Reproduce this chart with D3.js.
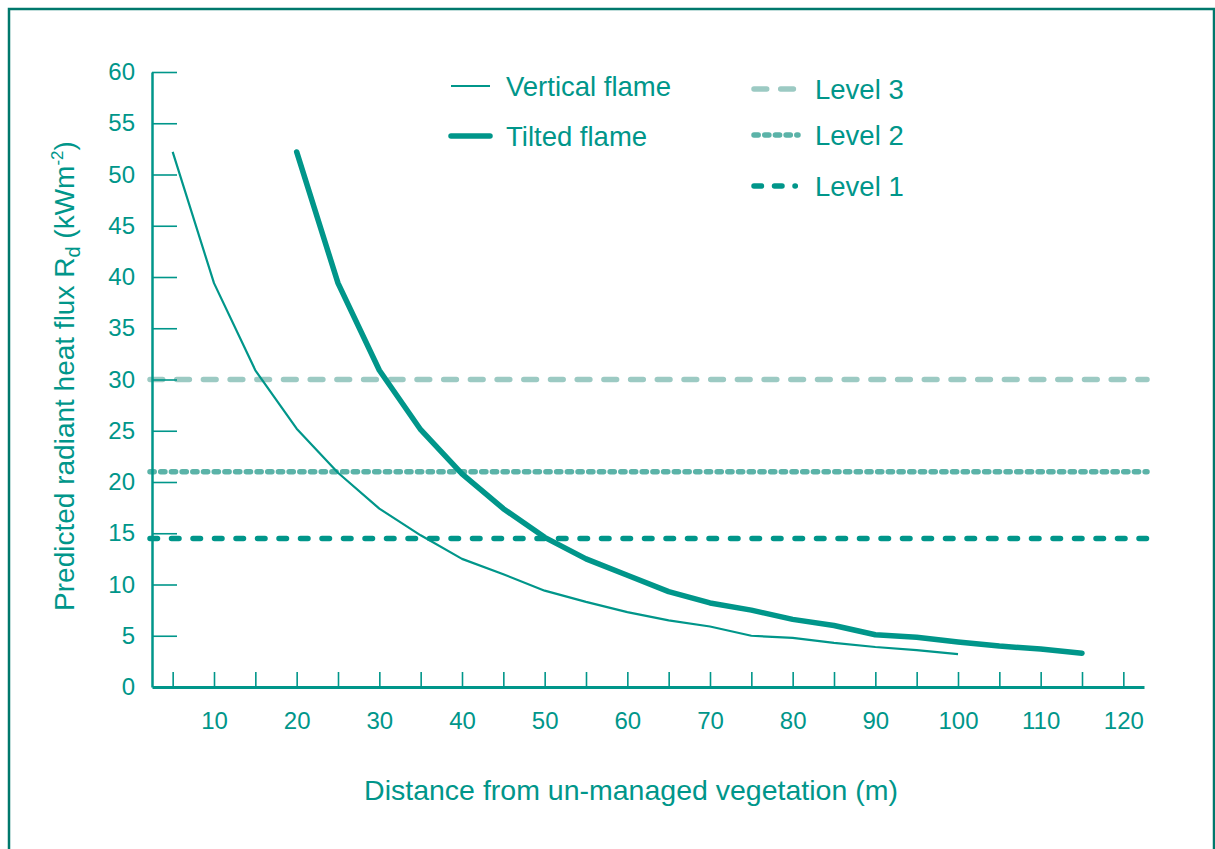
<!DOCTYPE html>
<meta charset="utf-8">
<style>
body { margin: 0; background: #fff; }
svg { display: block; }
text { font-family: "Liberation Sans", Arial, sans-serif; fill: #00968a; }
.axis text { font-size: 24px; fill: #00968a; font-family: "Liberation Sans", Arial, sans-serif; }
.axis line, .axis path { stroke: #00968a; }
</style>
<body>
<svg id="chart"></svg>
<script src="https://d3js.org/d3.v7.min.js"></script>
<script>

var width = 1215,
    height = 849;

// distance (m) and predicted radiant heat flux (kWm-2)
var verticalDist = [5, 10, 15, 20, 25, 30, 35, 40, 45, 50, 55, 60, 65, 70, 75, 80, 85, 90, 95, 100];
var verticalFlux = [52.2, 39.4, 30.9, 25.2, 20.9, 17.4, 14.8, 12.5, 11.0, 9.4, 8.3, 7.3, 6.5, 5.9, 5.0, 4.8, 4.3, 3.9, 3.6, 3.2];

var tiltedDist = [20, 25, 30, 35, 40, 45, 50, 55, 60, 65, 70, 75, 80, 85, 90, 95, 100, 105, 110, 115];
var tiltedFlux = [52.2, 39.4, 30.9, 25.1, 20.8, 17.4, 14.6, 12.5, 10.9, 9.3, 8.2, 7.5, 6.6, 6.0, 5.1, 4.85, 4.4, 4.0, 3.7, 3.3];

var levelNames = ["Level 3", "Level 2", "Level 1"];
var levelValues = [30, 21, 14.5];

var xTicks = d3.range(5, 121, 5);
var yTicks = d3.range(0, 61, 5);

var levelStyle = {
  "Level 3": { color: "#9ccac3", dash: "12.7,14", key: "12.7,14" },
  "Level 2": { color: "#5bb3a8", dash: "4.2,6.5", key: "4.2,6.5" },
  "Level 1": { color: "#00968a", dash: "7.5,14", key: "7.5,13,7.5,13,0.3,20" }
};

var teal = "#00968a";

var svg = d3.select("#chart")
    .attr("width", width)
    .attr("height", height);

// frame
svg.append("rect")
    .attr("x", 9)
    .attr("y", 9)
    .attr("width", 1205)
    .attr("height", 900)
    .attr("fill", "none")
    .attr("stroke", "#00786c")
    .attr("stroke-width", 2.5);

var x = d3.scaleLinear()
    .domain([2.5, 122.5])
    .range([152, 1144]);

var y = d3.scaleLinear()
    .domain([0, 60])
    .range([687, 72]);

// level lines
var levels = levelNames.map(function(n, i) { return { name: n, value: levelValues[i] }; });

svg.append("g").selectAll("line")
  .data(levels)
  .enter().append("line")
    .attr("x1", x.range()[0] - 2)
    .attr("x2", x.range()[1] + 3)
    .attr("y1", function(d) { return y(d.value); })
    .attr("y2", function(d) { return y(d.value); })
    .attr("stroke", function(d) { return levelStyle[d.name].color; })
    .attr("stroke-dasharray", function(d) { return levelStyle[d.name].dash; })
    .attr("stroke-width", 5.5)
    .attr("stroke-linecap", "round");

// axes
var yAxis = svg.append("g")
    .attr("class", "axis")
    .attr("transform", "translate(" + x.range()[0] + ",0)")
    .call(d3.axisLeft(y)
      .tickValues(yTicks)
      .tickSizeInner(-25)
      .tickSizeOuter(0)
      .tickPadding(17));
yAxis.select(".domain").attr("stroke-width", 2.5);
yAxis.selectAll(".tick line").attr("stroke-width", 1.6)
    .filter(function(d) { return d === 0; }).remove();

var xAxis = svg.append("g")
    .attr("class", "axis")
    .attr("transform", "translate(0," + y(0) + ")")
    .call(d3.axisBottom(x)
      .tickValues(xTicks)
      .tickSizeInner(-15)
      .tickSizeOuter(0)
      .tickPadding(25)
      .tickFormat(function(d) { return d % 10 === 0 ? d : ""; }));
xAxis.select(".domain").attr("stroke-width", 3);
xAxis.selectAll(".tick line").attr("stroke-width", 1.6);

// flame curves
var line = d3.line()
    .x(function(d) { return x(d[0]); })
    .y(function(d) { return y(d[1]); });

svg.append("path")
    .datum(d3.zip(verticalDist, verticalFlux))
    .attr("fill", "none")
    .attr("stroke", teal)
    .attr("stroke-width", 2.2)
    .attr("stroke-linejoin", "round")
    .attr("d", line);

svg.append("path")
    .datum(d3.zip(tiltedDist, tiltedFlux))
    .attr("fill", "none")
    .attr("stroke", teal)
    .attr("stroke-width", 5.5)
    .attr("stroke-linejoin", "round")
    .attr("stroke-linecap", "round")
    .attr("d", line);

// axis titles
svg.append("text")
    .attr("x", 631)
    .attr("y", 800)
    .attr("text-anchor", "middle")
    .attr("font-size", 28.5)
    .text("Distance from un-managed vegetation (m)");

var yt = svg.append("text")
    .attr("transform", "translate(74,376)rotate(-90)")
    .attr("text-anchor", "middle")
    .attr("font-size", 28);
yt.append("tspan").text("Predicted radiant heat flux R");
yt.append("tspan").attr("font-size", 20).attr("dy", 6).text("d");
yt.append("tspan").attr("dy", -6).text(" (kWm");
yt.append("tspan").attr("font-size", 17).attr("dy", -11).text("-2");
yt.append("tspan").attr("dy", 11).text(")");

// legend: flames
var flameLegend = [
  { label: "Vertical flame", w: 2.2, y: 86 },
  { label: "Tilted flame", w: 5.5, y: 136 }
];
var fl = svg.append("g").selectAll("g")
  .data(flameLegend)
  .enter().append("g");
fl.append("line")
    .attr("x1", 451).attr("x2", 490)
    .attr("y1", function(d) { return d.y; })
    .attr("y2", function(d) { return d.y; })
    .attr("stroke", teal)
    .attr("stroke-width", function(d) { return d.w; })
    .attr("stroke-linecap", function(d) { return d.w > 3 ? "round" : "butt"; });
fl.append("text")
    .attr("x", 506)
    .attr("y", function(d) { return d.y + 10; })
    .attr("font-size", 27.5)
    .text(function(d) { return d.label; });

// legend: levels
var levelLegendY = [89, 135, 186];
var ll = svg.append("g").selectAll("g")
  .data(levels)
  .enter().append("g");
ll.append("line")
    .attr("x1", 754).attr("x2", 798)
    .attr("y1", function(d, i) { return levelLegendY[i]; })
    .attr("y2", function(d, i) { return levelLegendY[i]; })
    .attr("stroke", function(d) { return levelStyle[d.name].color; })
    .attr("stroke-dasharray", function(d) { return levelStyle[d.name].key; })
    .attr("stroke-width", 5.5)
    .attr("stroke-linecap", "round");
ll.append("text")
    .attr("x", 815)
    .attr("y", function(d, i) { return levelLegendY[i] + 10; })
    .attr("font-size", 27.5)
    .text(function(d) { return d.name; });

</script>
</body>
